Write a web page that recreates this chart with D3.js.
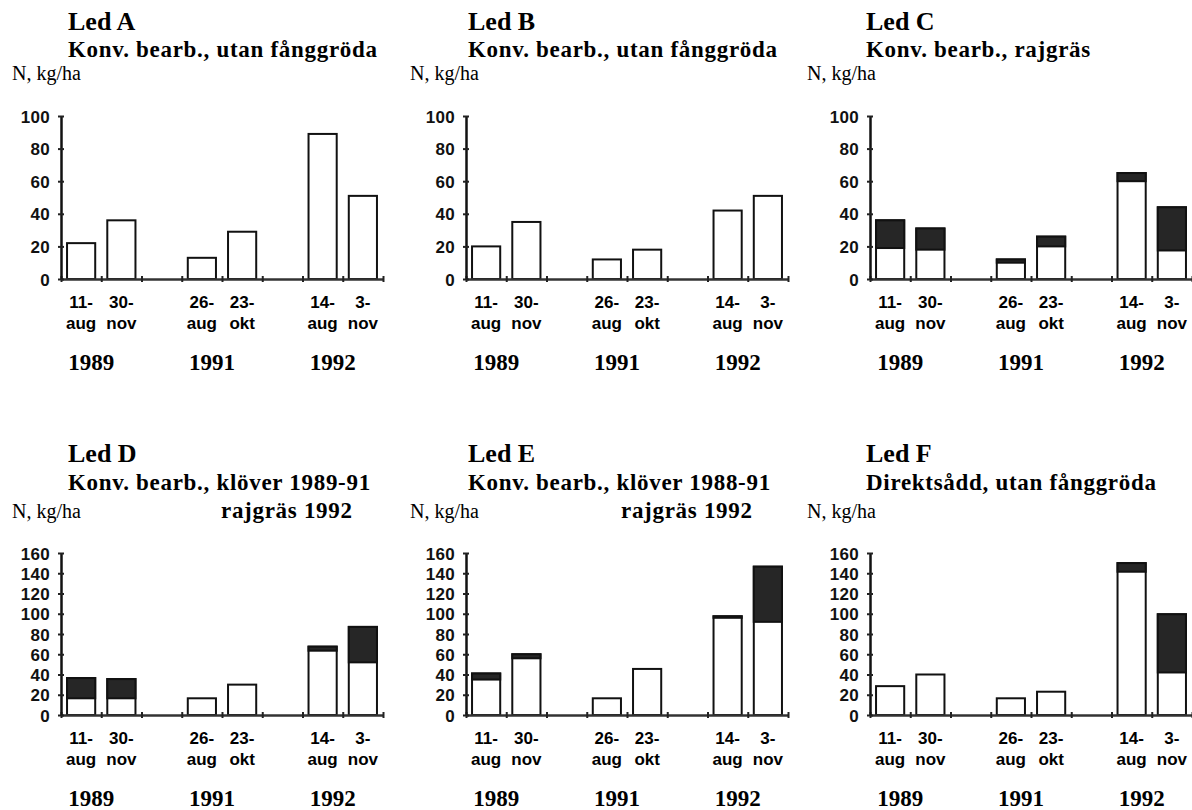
<!DOCTYPE html>
<html>
<head>
<meta charset="utf-8">
<script src="https://cdn.jsdelivr.net/npm/d3@7"></script>
<style>
  body { margin: 0; background: #fff; }
  svg { display: block; }
</style>
</head>
<body>
<div id="chart"></div>
<script>
// sampling dates (two per year) and the years they belong to
const dateTop = ['11-', '30-', '26-', '23-', '14-', '3-'];
const dateBottom = ['aug', 'nov', 'aug', 'okt', 'aug', 'nov'];
const years = ['1989', '1991', '1992'];

// panel titles
const ledNames = ['Led A', 'Led B', 'Led C', 'Led D', 'Led E', 'Led F'];
const subtitles = [
    'Konv. bearb., utan fånggröda',
    'Konv. bearb., utan fånggröda',
    'Konv. bearb., rajgräs',
    'Konv. bearb., klöver 1989-91',
    'Konv. bearb., klöver 1988-91',
    'Direktsådd, utan fånggröda'
];
const subtitles2 = ['', '', '', 'rajgräs 1992', 'rajgräs 1992', ''];

// N, kg/ha : white part of each bar (soil) and total height (soil + crop)
const whiteA = [22, 36, 13, 29, 89, 51];
const totalA = [22, 36, 13, 29, 89, 51];
const whiteB = [20, 35, 12, 18, 42, 51];
const totalB = [20, 35, 12, 18, 42, 51];
const whiteC = [19, 18, 10, 20, 60, 17.5];
const totalC = [36, 31, 12, 26, 65, 44];
const whiteD = [16.5, 16.5, 16.5, 30, 63.5, 52];
const totalD = [36.5, 35.5, 16.5, 30, 67.5, 87];
const whiteE = [35, 56, 16.5, 45.5, 96, 92];
const totalE = [41, 60, 16.5, 45.5, 97.5, 146.5];
const whiteF = [28.5, 40, 16.5, 23, 141.5, 42];
const totalF = [28.5, 40, 16.5, 23, 150, 99.5];

// y-axis tick values for each row
const ticksTop = [0, 20, 40, 60, 80, 100];
const ticksBottom = [0, 20, 40, 60, 80, 100, 120, 140, 160];

const whites = [whiteA, whiteB, whiteC, whiteD, whiteE, whiteF];
const totals = [totalA, totalB, totalC, totalD, totalE, totalF];

// layout: slot index of each bar (gaps between the years)
const slots = [0, 1, 3, 4, 6, 7];
const axisXs = [61, 466, 870];
const titleXs = [68, 468, 866];
const nLabelXs = [12, 410, 807];
const rows = [
    { top: 116, bottom: 279, titleY: 30, subY: 57, nY: 80, ticks: ticksTop },
    { top: 553, bottom: 715, titleY: 462, subY: 490, nY: 518, ticks: ticksBottom }
];
const plotWidth = 322;

const serif = "'Liberation Serif', 'Times New Roman', serif";
const sans = "'Liberation Sans', Arial, Helvetica, sans-serif";

const svg = d3.select('#chart').append('svg')
    .attr('width', 1192)
    .attr('height', 810);

ledNames.forEach((name, i) => {
    const col = i % 3;
    const row = rows[Math.floor(i / 3)];
    const x0 = axisXs[col];

    const g = svg.append('g');

    // titles
    g.append('text')
        .attr('x', titleXs[col]).attr('y', row.titleY)
        .style('font-family', serif).style('font-weight', 'bold')
        .style('font-size', '26px')
        .text(name);
    g.append('text')
        .attr('x', titleXs[col]).attr('y', row.subY)
        .style('font-family', serif).style('font-weight', 'bold')
        .style('font-size', '23px').style('letter-spacing', '0.7px')
        .text(subtitles[i]);
    if (subtitles2[i]) {
        g.append('text')
            .attr('x', titleXs[col] + 153).attr('y', row.nY)
            .style('font-family', serif).style('font-weight', 'bold')
            .style('font-size', '23px').style('letter-spacing', '0.7px')
            .text(subtitles2[i]);
    }
    g.append('text')
        .attr('x', nLabelXs[col]).attr('y', row.nY)
        .style('font-family', serif)
        .style('font-size', '20px')
        .text('N, kg/ha');

    // scales
    const yMax = d3.max(row.ticks);
    const y = d3.scaleLinear().domain([0, yMax]).range([row.bottom, row.top]);
    const xSlot = d3.scaleLinear().domain([0, 8]).range([x0, x0 + plotWidth]);
    const xBand = d3.scaleBand()
        .domain(d3.range(8))
        .range([x0, x0 + plotWidth])
        .paddingInner(0.3)
        .paddingOuter(0.15);

    // bars: white box to total, dark part from white value to total
    const bars = g.append('g');
    slots.forEach((s, j) => {
        bars.append('rect')
            .attr('x', xBand(s))
            .attr('y', y(totals[i][j]))
            .attr('width', xBand.bandwidth())
            .attr('height', y(0) - y(totals[i][j]))
            .attr('fill', '#fff')
            .attr('stroke', '#111')
            .attr('stroke-width', 2);
        if (totals[i][j] > whites[i][j]) {
            bars.append('rect')
                .attr('x', xBand(s))
                .attr('y', y(totals[i][j]))
                .attr('width', xBand.bandwidth())
                .attr('height', y(whites[i][j]) - y(totals[i][j]))
                .attr('fill', '#262626')
                .attr('stroke', '#111')
                .attr('stroke-width', 2);
        }
    });

    // x axis with small marks at slot boundaries
    g.append('g')
        .attr('transform', `translate(0, ${row.bottom})`)
        .call(d3.axisBottom(xSlot).tickValues(d3.range(9)).tickFormat('').tickSizeInner(3).tickSizeOuter(0))
        .call(a => a.select('.domain').attr('stroke', '#333').attr('stroke-width', 2.5))
        .call(a => a.selectAll('.tick line').attr('stroke', '#222').attr('stroke-width', 2)
            .clone().attr('y2', -3));

    // y axis
    g.append('g')
        .attr('transform', `translate(${x0}, 0)`)
        .call(d3.axisLeft(y).tickValues(row.ticks).tickSizeInner(3).tickSizeOuter(0).tickPadding(8))
        .call(a => a.select('.domain').attr('stroke', '#111').attr('stroke-width', 2.5))
        .call(a => a.selectAll('.tick line').attr('stroke', '#222').attr('stroke-width', 2)
            .clone().attr('x2', 3))
        .call(a => a.selectAll('.tick text')
            .style('font-family', sans).style('font-weight', 'bold')
            .style('font-size', '17px').style('letter-spacing', '0.3px')
            .attr('fill', '#111').attr('dy', '0.36em'));

    // date labels
    slots.forEach((s, j) => {
        const cx = xBand(s) + xBand.bandwidth() / 2;
        g.append('text')
            .attr('x', cx).attr('y', row.bottom + 29)
            .attr('text-anchor', 'middle')
            .style('font-family', sans).style('font-weight', 'bold').style('font-size', '17px')
            .text(dateTop[j]);
        g.append('text')
            .attr('x', cx).attr('y', row.bottom + 50)
            .attr('text-anchor', 'middle')
            .style('font-family', sans).style('font-weight', 'bold').style('font-size', '17px')
            .text(dateBottom[j]);
    });

    // year labels under each pair of bars
    years.forEach((yr, k) => {
        g.append('text')
            .attr('x', xSlot(k * 3 + 1) - 10)
            .attr('y', row.bottom + 91)
            .attr('text-anchor', 'middle')
            .style('font-family', serif).style('font-weight', 'bold').style('font-size', '23px')
            .text(yr);
    });
});
</script>
</body>
</html>
